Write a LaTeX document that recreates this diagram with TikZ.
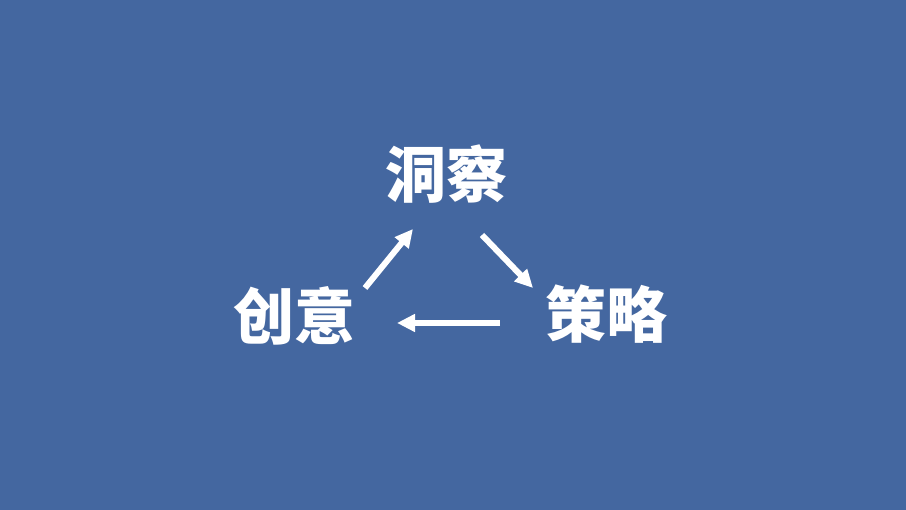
\documentclass[tikz,border=0pt]{standalone}
\usepackage{fontspec}
\newfontfamily\cjk{Noto Sans CJK SC}
\usetikzlibrary{arrows.meta}
\definecolor{slideblue}{RGB}{68,103,160}

\begin{document}
\begin{tikzpicture}[x=1pt,y=1pt]
\fill[slideblue] (0,0) rectangle (906,510);
\useasboundingbox (0,0) rectangle (906,510);

\begin{scope}[every node/.style={text=white, inner sep=0pt, font=\cjk\bfseries\fontsize{61}{61}\selectfont}]
    \node (dongcha) at (446,336) {洞察};
    \node (celve) at (606,196) {策略};
    \node (chuangyi) at (294,194) {创意};
\end{scope}

% arrow ends
\coordinate (cy-out) at (365,222);
\coordinate (dc-in) at (413,281);
\coordinate (dc-out) at (482,275);
\coordinate (cl-in) at (533,222);
\coordinate (cl-out) at (500,187);
\coordinate (cy-in) at (397,187);

\begin{scope}[white, line width=6pt, -{Triangle[length=18pt,width=17pt]}]
    \draw (cy-out) -- (dc-in);
    \draw (dc-out) -- (cl-in);
    \draw (cl-out) -- (cy-in);
\end{scope}
\end{tikzpicture}
\end{document}
